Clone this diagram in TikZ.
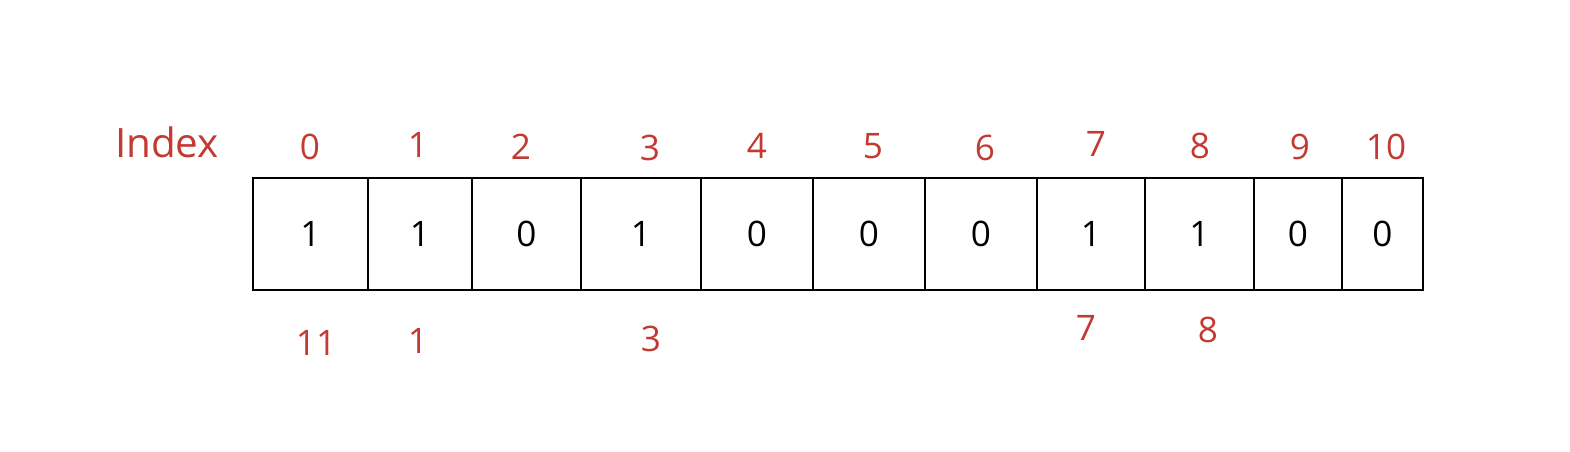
\documentclass[tikz,border=0pt]{standalone}
\usepackage{fontspec}
\setmainfont{Open Sans}
\definecolor{idxred}{HTML}{C23A32}
\tikzset{
    every node/.style={inner sep=0pt, outer sep=0pt, font=\fontsize{20}{22}\selectfont},
    cell/.style={draw, line width=0.8pt, minimum height=2.24cm},
    idx/.style={text=idxred}
}

\begin{document}
\begin{tikzpicture}[x=0.02cm, y=-0.02cm]
  \useasboundingbox (0,0) rectangle (1570,451);
  % the bit array
  \node (c0) [cell, minimum width=2.30cm] at (310.5,234) {1};
  \node (c1) [cell, minimum width=2.08cm] at (420,234) {1};
  \node (c2) [cell, minimum width=2.18cm] at (526.5,234) {0};
  \node (c3) [cell, minimum width=2.40cm] at (641,234) {1};
  \node (c4) [cell, minimum width=2.24cm] at (757,234) {0};
  \node (c5) [cell, minimum width=2.24cm] at (869,234) {0};
  \node (c6) [cell, minimum width=2.24cm] at (981,234) {0};
  \node (c7) [cell, minimum width=2.16cm] at (1091,234) {1};
  \node (c8) [cell, minimum width=2.18cm] at (1199.5,234) {1};
  \node (c9) [cell, minimum width=1.76cm] at (1298,234) {0};
  \node (c10) [cell, minimum width=1.62cm] at (1382.5,234) {0};

  % indices on top
  \node (index) [idx, font=\fontsize{23}{25}\selectfont] at (167,142) {Index};
  \node (i0) [idx] at (310,147) {0};
  \node (i1) [idx] at (418,145) {1};
  \node (i2) [idx] at (521,147) {2};
  \node (i3) [idx] at (650,148) {3};
  \node (i4) [idx] at (757,146) {4};
  \node (i5) [idx] at (873,146) {5};
  \node (i6) [idx] at (985,148) {6};
  \node (i7) [idx] at (1096,144) {7};
  \node (i8) [idx] at (1200,146) {8};
  \node (i9) [idx] at (1300,147) {9};
  \node (i10) [idx] at (1386,147) {10};

  % set positions below
  \node (b0) [idx] at (316,343) {11};
  \node (b1) [idx] at (418,341) {1};
  \node (b3) [idx] at (651,339) {3};
  \node (b7) [idx] at (1086,328) {7};
  \node (b8) [idx] at (1208,330) {8};
\end{tikzpicture}
\end{document}
